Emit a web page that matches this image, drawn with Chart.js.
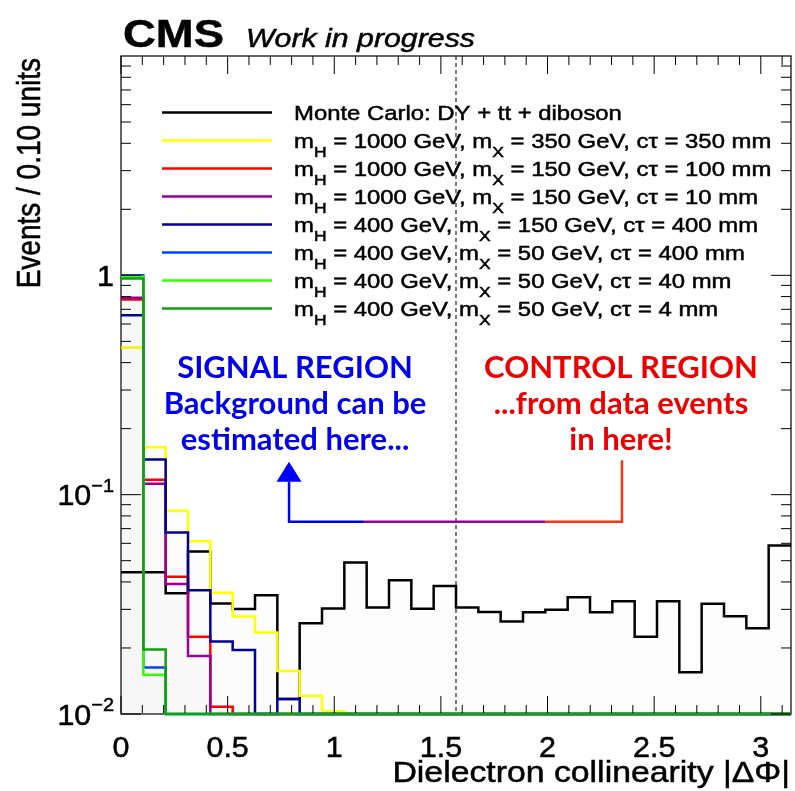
<!DOCTYPE html>
<html>
<head>
<meta charset="utf-8">
<title>Dielectron collinearity</title>
<script src="https://cdn.jsdelivr.net/npm/chart.js@4.4.1/dist/chart.umd.min.js"></script>
<style>
  html, body { margin: 0; padding: 0; background: #fff; }
  #wrap { width: 795px; height: 791px; }
</style>
</head>
<body>
<div id="wrap"><canvas id="chart" width="795" height="791"></canvas></div>
<script>
// BINNING
const N_BINS = 30;
const X_MAX = Math.PI;
const BIN_W = X_MAX / N_BINS;
const Y_MIN = 0.01;
const Y_MAX = 10;

// HISTOGRAMS (normalised events per bin)
const mcBackground = [0.0443, 0.0443, 0.0355, 0.055, 0.0319, 0.0301, 0.0348, 0.0117, 0.0259, 0.0303,
                      0.0491, 0.0306, 0.0407, 0.0302, 0.0383, 0.0306, 0.0292, 0.0264, 0.0291, 0.0299,
                      0.0341, 0.0291, 0.0327, 0.0225, 0.0327, 0.0155, 0.0318, 0.0279, 0.0246, 0.0587];
const sigH1000X350ct350 = [0.469, 0.1644, 0.0845, 0.0614, 0.0357, 0.0278, 0.0235, 0.0157, 0.0121, 0.0103,
                           0, 0, 0, 0, 0, 0, 0, 0, 0, 0, 0, 0, 0, 0, 0, 0, 0, 0, 0, 0];
const sigH1000X150ct100 = [0.776, 0.117, 0.0422, 0.0225, 0.0108, 0, 0, 0, 0, 0,
                           0, 0, 0, 0, 0, 0, 0, 0, 0, 0, 0, 0, 0, 0, 0, 0, 0, 0, 0, 0];
const sigH1000X150ct10 = [0.79, 0.112, 0.0391, 0.0184, 0, 0, 0, 0, 0, 0,
                          0, 0, 0, 0, 0, 0, 0, 0, 0, 0, 0, 0, 0, 0, 0, 0, 0, 0, 0, 0];
const sigH400X150ct400 = [0.658, 0.1448, 0.0673, 0.0367, 0.0214, 0.0196, 0, 0.0117, 0, 0,
                          0, 0, 0, 0, 0, 0, 0, 0, 0, 0, 0, 0, 0, 0, 0, 0, 0, 0, 0, 0];
const sigH400X50ct400 = [1.0, 0.0163, 0, 0, 0, 0, 0, 0, 0, 0,
                         0, 0, 0, 0, 0, 0, 0, 0, 0, 0, 0, 0, 0, 0, 0, 0, 0, 0, 0, 0];
const sigH400X50ct40 = [0.985, 0.0151, 0, 0, 0, 0, 0, 0, 0, 0,
                        0, 0, 0, 0, 0, 0, 0, 0, 0, 0, 0, 0, 0, 0, 0, 0, 0, 0, 0, 0];
const sigH400X50ct4 = [0.968, 0.0197, 0, 0, 0, 0, 0, 0, 0, 0,
                       0, 0, 0, 0, 0, 0, 0, 0, 0, 0, 0, 0, 0, 0, 0, 0, 0, 0, 0, 0];

const seriesValues = [mcBackground, sigH1000X350ct350, sigH1000X150ct100, sigH1000X150ct10,
                      sigH400X150ct400, sigH400X50ct400, sigH400X50ct40, sigH400X50ct4];
const seriesLabels = [
    'Monte Carlo: DY + tt + diboson',
    'm_{H} = 1000 GeV, m_{X} = 350 GeV, cτ = 350 mm',
    'm_{H} = 1000 GeV, m_{X} = 150 GeV, cτ = 100 mm',
    'm_{H} = 1000 GeV, m_{X} = 150 GeV, cτ = 10 mm',
    'm_{H} = 400 GeV, m_{X} = 150 GeV, cτ = 400 mm',
    'm_{H} = 400 GeV, m_{X} = 50 GeV, cτ = 400 mm',
    'm_{H} = 400 GeV, m_{X} = 50 GeV, cτ = 40 mm',
    'm_{H} = 400 GeV, m_{X} = 50 GeV, cτ = 4 mm'
];
const seriesColors = ['#000000', '#ffff00', '#ff0000', '#990099', '#000099', '#0044ff', '#33ff00', '#11a011'];

// AXES
const xTickValues = [0, 0.5, 1, 1.5, 2, 2.5, 3];
const xTickLabels = ['0', '0.5', '1', '1.5', '2', '2.5', '3'];
const yTickValues = [0.01, 0.1, 1];
const yTickBases = ['10', '10', '1'];
const yTickExps = ['−2', '−1', ''];
const xTitle = 'Dielectron collinearity |ΔΦ|';
const yTitle = 'Events / 0.10 units';

// ANNOTATIONS
const signalLines = ['SIGNAL REGION', 'Background can be', 'estimated here...'];
const controlLines = ['CONTROL REGION', '...from data events', 'in here!'];

// ROOT output is slightly wide
const ROOT_SX = 1.165;
const HELV = '"Liberation Sans", Arial, sans-serif';

// histogram -> step points (zero bins sit on the axis floor)
function toSteps(vals) {
    const pts = vals.map((v, i) => ({ x: i * BIN_W, y: Math.max(v, Y_MIN) }));
    pts.push({ x: X_MAX, y: Math.max(vals[vals.length - 1], Y_MIN) });
    return pts;
}

// text with horizontal stretch and a faint outline (ROOT glyphs are heavy)
function drawText(ctx, text, x, y, font, sx, align) {
    ctx.save();
    ctx.font = font;
    const w = ctx.measureText(text).width * sx;
    const x0 = align === 'center' ? x - w / 2 : align === 'right' ? x - w : x;
    ctx.translate(x0, y);
    ctx.scale(sx, 1);
    ctx.textAlign = 'left';
    ctx.fillText(text, 0, 0);
    ctx.strokeStyle = ctx.fillStyle;
    ctx.lineWidth = 0.5;
    ctx.strokeText(text, 0, 0);
    ctx.restore();
    return w;
}

// "m_{H} = ..." -> text with subscripts
function drawRich(ctx, label, x, y, size) {
    const parts = label.split(/_\{([^}]*)\}/);
    let cx = x;
    parts.forEach((p, i) => {
        if (!p) return;
        if (i % 2 === 1) {
            cx += drawText(ctx, p, cx, y + 9, `${Math.round(size * 0.75)}px ${HELV}`, ROOT_SX, 'left');
        } else {
            cx += drawText(ctx, p, cx, y, `${size}px ${HELV}`, ROOT_SX, 'left');
        }
    });
}

const rootStyle = {
    id: 'rootStyle',
    beforeDatasetsDraw(chart) {
        const { ctx, chartArea: a, scales: { x } } = chart;
        ctx.save();
        // frame sits under the histograms
        ctx.strokeStyle = '#000';
        ctx.lineWidth = 1.2;
        ctx.strokeRect(a.left, a.top, a.right - a.left, a.bottom - a.top);

        // pi/2 divider
        const xd = x.getPixelForValue(Math.PI / 2);
        ctx.strokeStyle = '#333';
        ctx.lineWidth = 1.3;
        ctx.setLineDash([4, 3]);
        ctx.beginPath();
        ctx.moveTo(xd, a.top);
        ctx.lineTo(xd, a.bottom);
        ctx.stroke();
        ctx.restore();
    },
    afterDatasetsDraw(chart) {
        const { ctx, chartArea: a, scales: { x, y } } = chart;
        ctx.save();

        // x ticks, both sides
        ctx.strokeStyle = '#000';
        ctx.lineWidth = 1;
        ctx.beginPath();
        for (let k = 0; k <= 31; k++) {
            const px = x.getPixelForValue(k / 10);
            const len = k % 5 === 0 ? 18 : 9;
            ctx.moveTo(px, a.bottom - 1); ctx.lineTo(px, a.bottom - len);
            ctx.moveTo(px, a.top); ctx.lineTo(px, a.top + len);
        }
        // y ticks, both sides
        [0.01, 0.1, 1].forEach(d => {
            for (let m = 1; m <= 9; m++) {
                const py = y.getPixelForValue(m * d);
                const len = m === 1 ? 20 : 10;
                ctx.moveTo(a.left, py); ctx.lineTo(a.left + len, py);
                ctx.moveTo(a.right, py); ctx.lineTo(a.right - len, py);
            }
        });
        ctx.stroke();

        // tick labels
        ctx.fillStyle = '#000';
        xTickValues.forEach((v, i) => {
            drawText(ctx, xTickLabels[i], x.getPixelForValue(v), 757, `29px ${HELV}`, 1.05, 'center');
        });
        yTickValues.forEach((v, i) => {
            const py = y.getPixelForValue(v);
            let right = 114;
            if (yTickExps[i]) {
                right -= drawText(ctx, yTickExps[i], right, py - 3, `19px ${HELV}`, 1.05, 'right');
            }
            drawText(ctx, yTickBases[i], right, py + 10.5, `29px ${HELV}`, 1.05, 'right');
        });

        // axis titles
        drawText(ctx, xTitle, 790, 782, `29px ${HELV}`, ROOT_SX, 'right');
        ctx.save();
        ctx.translate(40, 58);
        ctx.rotate(-Math.PI / 2);
        ctx.scale(1, ROOT_SX);
        ctx.font = `28px ${HELV}`;
        ctx.textAlign = 'right';
        ctx.fillText(yTitle, 0, 0);
        ctx.lineWidth = 0.5;
        ctx.strokeStyle = '#000';
        ctx.strokeText(yTitle, 0, 0);
        ctx.restore();

        // header
        drawText(ctx, 'CMS', 123, 47, `bold 39px ${HELV}`, ROOT_SX, 'left');
        drawText(ctx, 'Work in progress', 246, 47, `italic 26px ${HELV}`, ROOT_SX, 'left');

        // legend
        seriesLabels.forEach((lab, i) => {
            const ly = 112.5 + 28 * i;
            ctx.strokeStyle = seriesColors[i];
            ctx.lineWidth = 2.5;
            ctx.beginPath();
            ctx.moveTo(162, ly); ctx.lineTo(272, ly);
            ctx.stroke();
            ctx.fillStyle = '#000';
            drawRich(ctx, lab, 294, ly + 7, 20.5);
        });

        // region notes
        ctx.font = 'bold 31px Lato, sans-serif';
        ctx.textAlign = 'center';
        ctx.fillStyle = '#0000ee';
        signalLines.forEach((t, i) => ctx.fillText(t, 295, 378 + 36 * i));
        ctx.fillStyle = '#ee0000';
        controlLines.forEach((t, i) => ctx.fillText(t, 621, 378 + 36 * i));

        // arrow from control to signal region
        const ay = y.getPixelForValue(0.0753);
        const xs = x.getPixelForValue(0.788);
        const xc = x.getPixelForValue(2.349);
        const xb1 = x.getPixelForValue(1.139);
        const xb2 = x.getPixelForValue(1.988);
        ctx.lineWidth = 2.5;
        ctx.lineCap = 'butt';
        const seg = (col, pts) => {
            ctx.strokeStyle = col;
            ctx.beginPath();
            ctx.moveTo(pts[0][0], pts[0][1]);
            pts.slice(1).forEach(p => ctx.lineTo(p[0], p[1]));
            ctx.stroke();
        };
        seg('#ff3311', [[xc, y.getPixelForValue(0.1435)], [xc, ay], [xb2, ay]]);
        seg('#990099', [[xb2, ay], [xb1, ay]]);
        const tipY = y.getPixelForValue(0.1413);
        seg('#0000ff', [[xb1, ay], [xs, ay], [xs, tipY + 20]]);
        ctx.fillStyle = '#0000ff';
        ctx.beginPath();
        ctx.moveTo(xs, tipY);
        ctx.lineTo(xs - 12.5, tipY + 20);
        ctx.lineTo(xs + 12.5, tipY + 20);
        ctx.closePath();
        ctx.fill();

        ctx.restore();
    }
};

const datasets = seriesValues.map((vals, i) => ({
    label: seriesLabels[i],
    data: toSteps(vals),
    borderColor: seriesColors[i],
    backgroundColor: 'rgba(0,0,0,0.008)',
    borderWidth: 2.5,
    fill: 'start',
    stepped: 'before',
    pointRadius: 0,
    clip: 3,
    order: seriesValues.length - i   // last entry drawn on top
}));

new Chart(document.getElementById('chart').getContext('2d'), {
    type: 'line',
    data: { datasets },
    options: {
        responsive: false,
        animation: false,
        parsing: false,
        layout: { padding: { left: 121, right: 4, top: 56, bottom: 77 } },
        plugins: { legend: { display: false }, tooltip: { enabled: false } },
        scales: {
            x: { type: 'linear', min: 0, max: X_MAX, display: false },
            y: { type: 'logarithmic', min: Y_MIN, max: Y_MAX, display: false }
        }
    },
    plugins: [rootStyle]
});
</script>
</body>
</html>
